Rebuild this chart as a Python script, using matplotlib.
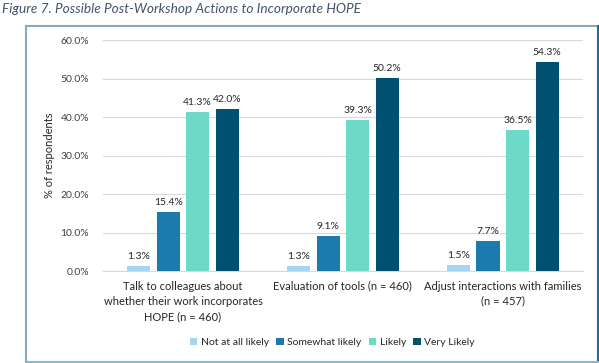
import matplotlib
matplotlib.use("Agg")
import matplotlib.pyplot as plt
import numpy as np
from matplotlib.lines import Line2D

plt.rcParams['font.family'] = ['Lato', 'DejaVu Sans']

categories = ["Talk to colleagues about\nwhether their work incorporates\nHOPE (n = 460)",
              "Evaluation of tools (n = 460)",
              "Adjust interactions with families\n(n = 457)"]
series_names = ["Not at all likely", "Somewhat likely", "Likely", "Very Likely"]
not_at_all = [1.3, 1.3, 1.5]
somewhat = [15.4, 9.1, 7.7]
likely = [41.3, 39.3, 36.5]
very_likely = [42.0, 50.2, 54.3]
yticks = [0, 10, 20, 30, 40, 50, 60]
colors = ["#A3D6F0", "#1B7AAE", "#6DDAC8", "#00506F"]

series = [not_at_all, somewhat, likely, very_likely]

W, H = 599, 363
fig = plt.figure(figsize=(5.99, 3.63), dpi=100)
fig.patch.set_facecolor("white")
ax = fig.add_axes([0.172, 0.2534, 0.801, 0.6364])

x = np.arange(len(categories))
step = 0.185
width = 0.145
for i, (vals, name, c) in enumerate(zip(series, series_names, colors)):
    pos = x + (i - 1.5) * step
    ax.bar(pos, vals, width, color=c, label=name, zorder=3)
    for p, v in zip(pos, vals):
        ax.text(p, v + 1.3, f"{v:.1f}%", ha="center", va="bottom", fontsize=7.5, color="#262626")

ax.set_xlim(-0.5, 2.5)
ax.set_ylim(0, 60)
ax.set_yticks(yticks)
ax.set_yticklabels([f"{t:.1f}%" for t in yticks], fontsize=7.5, color="#404040")
ax.set_xticks(x)
ax.set_xticklabels(categories, fontsize=8, color="#262626", linespacing=1.45)
ax.tick_params(axis="both", length=0)
ax.tick_params(axis="y", pad=10)
ax.tick_params(axis="x", pad=7)
ax.grid(axis="y", color="#D9D9D9", linewidth=0.8, zorder=0)
for s in ["top", "right", "left"]:
    ax.spines[s].set_visible(False)
ax.spines["bottom"].set_color("#D9D9D9")
ax.set_ylabel("% of respondents", fontsize=8, color="#262626", labelpad=4)

leg = fig.legend(loc="center", bbox_to_anchor=(0.555, 0.057), ncol=4, frameon=False,
                 fontsize=7.5, handlelength=0.7, handleheight=0.7, handletextpad=0.35,
                 columnspacing=0.7)
for t in leg.get_texts():
    t.set_color("#262626")

# chart frame
def fx(px):
    return px / W
def fy(py):
    return 1 - py / H
x0, x1, y0, y1 = 25.5, 597.5, 25.5, 361.5
fig.add_artist(Line2D([fx(x0), fx(x1)], [fy(y0), fy(y0)], transform=fig.transFigure, color="#8FA9BC", lw=1.5))
fig.add_artist(Line2D([fx(x0), fx(x0)], [fy(y0), fy(y1)], transform=fig.transFigure, color="#8FA9BC", lw=1.5))
fig.add_artist(Line2D([fx(x1), fx(x1)], [fy(y0), fy(y1)], transform=fig.transFigure, color="#1F6E9A", lw=1.5))
fig.add_artist(Line2D([fx(x0), fx(x1)], [fy(y1), fy(y1)], transform=fig.transFigure, color="#8FB8CF", lw=1.5))

fig.text(2/W, 1-9/H, "Figure 7. Possible Post-Workshop Actions to Incorporate HOPE",
         fontsize=9.8, style="italic", color="#44546A", va="center", ha="left")

fig.savefig("out.png", dpi=100)
